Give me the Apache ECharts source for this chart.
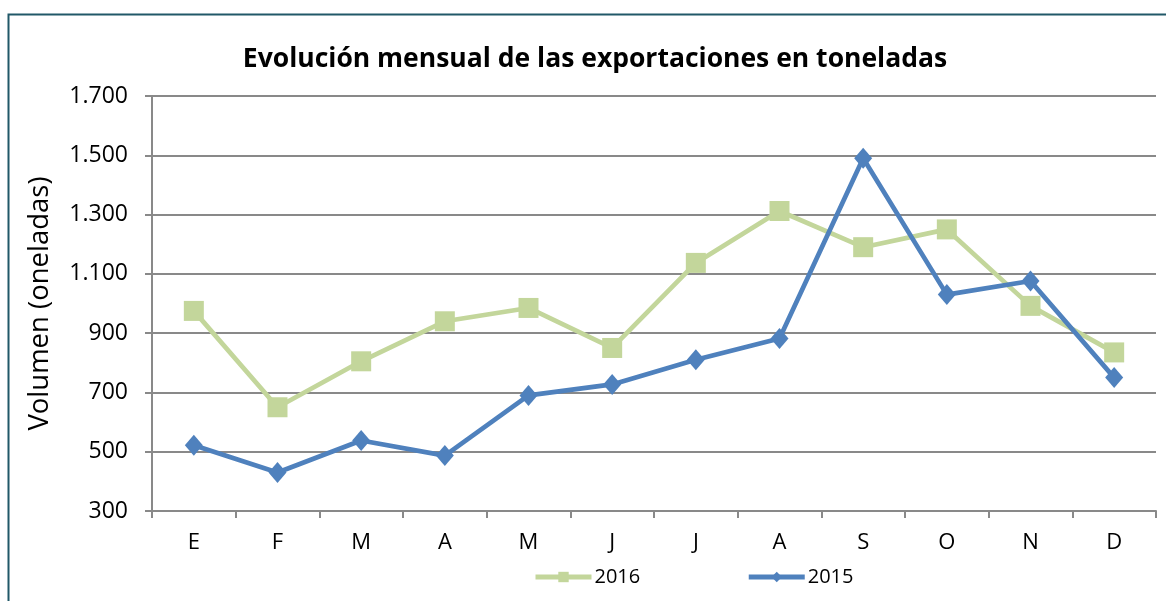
<!DOCTYPE html>
<html>
<head>
<meta charset="utf-8">
<script src="https://cdn.jsdelivr.net/npm/echarts@6/dist/echarts.min.js"></script>
<style>
  html, body { margin: 0; padding: 0; background: #fff; }
  #chart { width: 1166px; height: 601px; }
</style>
</head>
<body>
<div id="chart"></div>
<script>
// meses
const months = ['E', 'F', 'M', 'A', 'M', 'J', 'J', 'A', 'S', 'O', 'N', 'D']
const data2016 = [975, 650, 805, 940, 985, 850, 1137, 1312, 1190, 1250, 992, 835]
const data2015 = [522, 430, 538, 487, 690, 727, 810, 882, 1490, 1030, 1076, 750]

const myEcharts = echarts.init(document.getElementById('chart'))

const fmt = v => String(v).replace(/\B(?=(\d{3})+(?!\d))/g, '.')

myEcharts.setOption({
  animation: false,
  graphic: [{
    type: 'rect',
    shape: { x: 8.5, y: 14.5, width: 1200, height: 700 },
    style: { fill: 'none', stroke: '#215868', lineWidth: 2 },
    silent: true
  }],
  title: {
    text: 'Evolución mensual de las exportaciones en toneladas',
    left: 590,
    textAlign: 'center',
    top: 41,
    textStyle: {
      fontFamily: 'Open Sans',
      fontSize: 26.5,
      fontWeight: 'bold',
      color: '#000'
    }
  },
  legend: {
    top: 562,
    left: 528,
    itemGap: 106,
    itemWidth: 56,
    itemHeight: 13,
    lineStyle: { width: 5 },
    textStyle: { fontFamily: 'Open Sans', fontSize: 20, color: '#000', padding: [0, 0, 0, -2] },
    data: ['2016', '2015']
  },
  grid: {
    left: 152,
    right: 10,
    top: 96,
    bottom: 90,
    containLabel: false
  },
  xAxis: {
    type: 'category',
    data: months,
    boundaryGap: true,
    axisLine: { lineStyle: { color: '#898989', width: 2 } },
    axisTick: { show: true, length: 7, lineStyle: { color: '#898989', width: 2 } },
    axisLabel: { fontFamily: 'Open Sans', fontSize: 22, color: '#000', margin: 21 }
  },
  yAxis: {
    type: 'value',
    min: 300,
    max: 1700,
    interval: 200,
    name: 'Volumen (oneladas)',
    nameLocation: 'middle',
    nameGap: 98,
    nameTextStyle: { fontFamily: 'Open Sans', fontSize: 27.5, color: '#000' },
    axisLine: { show: true, lineStyle: { color: '#898989', width: 2 } },
    axisTick: { show: true, length: 7, lineStyle: { color: '#898989', width: 2 } },
    splitLine: { lineStyle: { color: '#898989', width: 2 } },
    axisLabel: {
      fontFamily: 'Open Sans',
      fontSize: 23,
      color: '#000',
      margin: 24,
      formatter: fmt
    }
  },
  series: [
    {
      name: '2016',
      type: 'line',
      data: data2016,
      symbol: 'rect',
      symbolSize: 20,
      lineStyle: { color: '#C3D69B', width: 4.7 },
      itemStyle: { color: '#C3D69B' }
    },
    {
      name: '2015',
      type: 'line',
      data: data2015,
      symbol: 'diamond',
      symbolSize: [18, 21],
      lineStyle: { color: '#4F81BD', width: 4.7 },
      itemStyle: { color: '#4F81BD' }
    }
  ]
})
</script>
</body>
</html>
